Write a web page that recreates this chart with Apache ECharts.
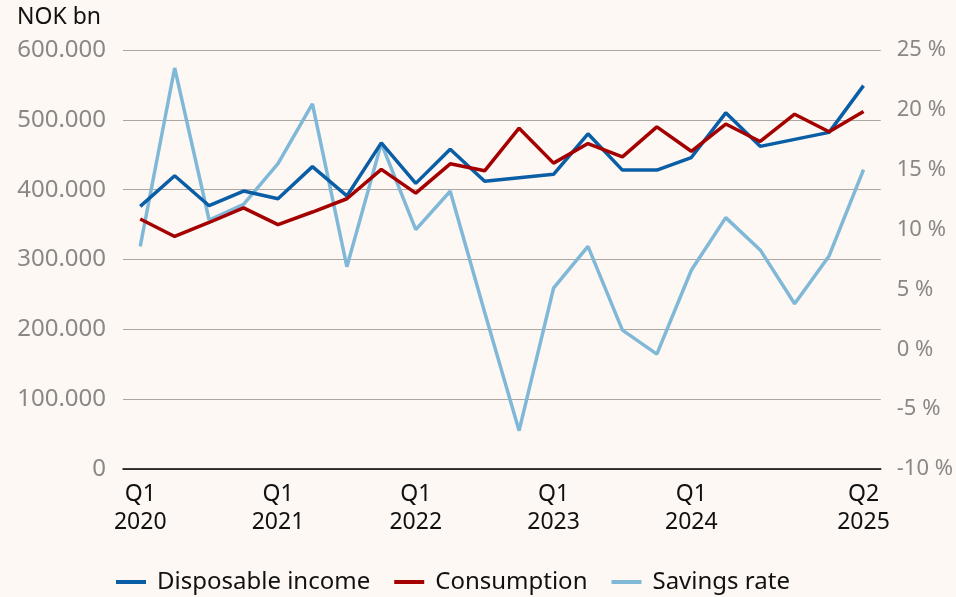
<!DOCTYPE html>
<html>
<head>
<meta charset="utf-8">
<script src="https://cdn.jsdelivr.net/npm/echarts@6/dist/echarts.min.js"></script>
<style>
html,body{margin:0;padding:0;background:#fdf8f4;}
#c{width:956px;height:597px;}
</style>
</head>
<body>
<div id="c"></div>
<script>
const categories = [
  'Q1 2020','Q2 2020','Q3 2020','Q4 2020',
  'Q1 2021','Q2 2021','Q3 2021','Q4 2021',
  'Q1 2022','Q2 2022','Q3 2022','Q4 2022',
  'Q1 2023','Q2 2023','Q3 2023','Q4 2023',
  'Q1 2024','Q2 2024','Q3 2024','Q4 2024',
  'Q1 2025','Q2 2025'
];
const shownLabels = ['Q1 2020','Q1 2021','Q1 2022','Q1 2023','Q1 2024','Q2 2025'];
const disposableIncome = [376000,420000,377000,398000,387000,433000,391000,467000,409000,458000,412000,417000,422000,480000,428000,428000,446000,510000,462000,472000,482000,549000];
const consumption = [358000,333000,353000,374000,350000,368000,387000,429000,395000,437000,427000,488000,438000,466000,447000,490000,455000,494000,469000,508000,483000,512000];
const savingsRate = [8.6,23.5,10.8,12.1,15.5,20.5,6.9,17.2,10.0,13.2,3.1,-6.8,5.1,8.6,1.6,-0.4,6.6,11.0,8.3,3.8,7.8,15.0];
const seriesNames = ['Disposable income','Consumption','Savings rate'];
const colors = ['#0a5ea6','#a50000','#80b8d8'];

const FONT = 'Noto Sans';
const chart = echarts.init(document.getElementById('c'), null, {renderer:'canvas'});
function fmtThousands(v){
  if (v === 0) return '0';
  const s = Math.round(v).toString();
  return s.replace(/\B(?=(\d{3})+(?!\d))/g, '.');
}
chart.setOption({
  backgroundColor: '#fdf8f4',
  animation: false,
  color: colors,
  textStyle: {fontFamily: FONT},
  grid: {left: 123, right: 74, top: 50, bottom: 128, containLabel: false},
  title: {
    text: 'NOK bn', left: 12, top: 1,
    textStyle: {fontFamily: FONT, fontSize: 23, fontWeight: 'normal', color: '#111'}
  },
  legend: {
    top: 565, left: 111,
    icon: 'rect', itemWidth: 30, itemHeight: 4, itemGap: 24,
    textStyle: {fontFamily: FONT, fontSize: 24, color: '#111', padding: [0, 0, 0, 6]},
    data: seriesNames
  },
  xAxis: {
    type: 'category',
    data: categories,
    boundaryGap: true,
    axisLine: {show: true, lineStyle: {color: '#000', width: 1.5}},
    axisTick: {show: false},
    axisLabel: {
      interval: function(i, v){ return shownLabels.indexOf(v) >= 0; },
      formatter: function(v){ return v.replace(' ', '\n'); },
      fontFamily: FONT, fontSize: 23, color: '#111', lineHeight: 28, margin: 11
    }
  },
  yAxis: [
    {
      type: 'value', min: 0, max: 600000, interval: 100000,
      axisLine: {show: false}, axisTick: {show: false},
      axisLabel: {formatter: fmtThousands, fontFamily: FONT, fontSize: 24, color: '#8a8785', margin: 17},
      splitLine: {show: true, lineStyle: {color: '#aaa6a2', width: 1}}
    },
    {
      type: 'value', min: -10, max: 25, interval: 5,
      axisLine: {show: false}, axisTick: {show: false},
      axisLabel: {formatter: function(v){ return v + ' %'; }, fontFamily: FONT, fontSize: 22, color: '#8a8785', margin: 16},
      splitLine: {show: false}
    }
  ],
  series: [
    {name: seriesNames[0], type: 'line', data: disposableIncome, yAxisIndex: 0, showSymbol: false, symbol: 'none', lineStyle: {width: 3.5, color: colors[0]}, z: 3},
    {name: seriesNames[1], type: 'line', data: consumption, yAxisIndex: 0, showSymbol: false, symbol: 'none', lineStyle: {width: 3.5, color: colors[1]}, z: 4},
    {name: seriesNames[2], type: 'line', data: savingsRate, yAxisIndex: 1, showSymbol: false, symbol: 'none', lineStyle: {width: 3.5, color: colors[2]}, z: 2}
  ]
});
</script>
</body>
</html>
